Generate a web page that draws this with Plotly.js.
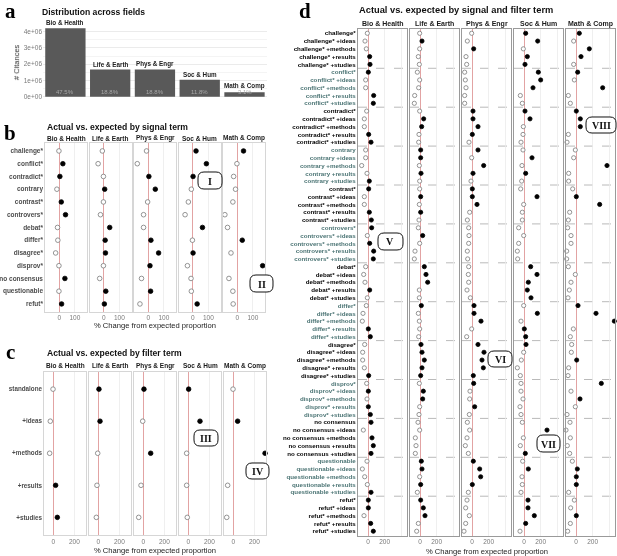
<!DOCTYPE html>
<html><head><meta charset="utf-8">
<script src="https://cdn.plot.ly/plotly-3.0.1.min.js"></script>
<style>html,body{margin:0;padding:0;background:#fff}#chart{width:617px;height:556px}
.main-svg text{filter:drop-shadow(0 0 0 rgba(0,0,0,0))}</style>
</head><body><div id="chart"></div><script>
// ---------- DATA ----------
const fields = ["Bio & Health","Life & Earth","Phys & Engr","Soc & Hum","Math & Comp"];
const citances = [4.21e6, 1.67e6, 1.67e6, 1.05e6, 0.27e6];
const shares = ["47.5%","18.8%","18.8%","11.8%","3.1%"];
const citTickVals = [0, 1e6, 2e6, 3e6, 4e6];
const citTickText = ["0e+00","1e+06","2e+06","3e+06","4e+06"];

const signalTerms = ["challenge*","conflict*","contradict*","contrary","contrast*","controvers*","debat*","differ*","disagree*","disprov*","no consensus","questionable","refut*"];
// panel b: % change by signal term
const sigBio  = [-2, 23, 4, -15, 13, 40, -11, -9, -23, -2, 36, -2, 15];
const sigLife = [-9, -36, -2, 6, -2, -21, 38, 9, 11, -2, -26, 13, 4];
const sigPhys = [-11, -70, 4, 45, -4, -30, -30, 17, 66, 11, -43, 15, -53];
const sigSoc  = [21, 87, 2, -9, -28, -49, 62, -2, 2, -34, -11, -9, 28];
const sigMath = [40, -2, -23, -11, -28, -79, -62, 32, -40, 162, -53, -28, -26];

const filterTerms = ["standalone","+ideas","+methods","+results","+studies"];
// panel c: % change by filter term
const filBio  = [-3, -29, -35, 22, 38];
const filLife = [6, 16, -6, -13, -19];
const filPhys = [6, -6, 70, -22, -44];
const filSoc  = [3, 111, -16, -16, -10];
const filMath = [-3, 41, 302, -54, -63];

// panel d: % change by signal x filter (13 groups x 5 filters)
const sfBio = [
 -8,-36,-20,20,24,   4,-28,-28,68,64,   -16,-44,-44,8,36,   -28,-28,-76,-12,16,
 8,-44,-44,16,40,    44,-8,20,68,64,    -28,-52,-36,20,-8,  -20,-60,-68,4,28,
 -40,-64,-64,-44,8,  -16,4,-12,4,28,    36,-56,48,64,36,    -12,-68,-40,-8,36,
 4,4,-48,32,64];
const sfLife = [
 -4,24,-4,-20,-8,    -32,-4,-16,-64,-68, -4,44,20,-12,-16,  8,8,-8,12,-4,
 -4,8,-8,8,-12,      -20,32,-4,-60,-68,  52,72,92,-8,-8,    16,-20,-8,-4,-16,
 12,24,52,24,8,      -8,40,32,-4,-12,    -24,-4,-56,-48,-56, 16,24,-4,8,-32,
 8,40,60,-20,-40];
const sfPhys = [
 -4,-56,20,-72,-64,  -88,-80,-72,-88,-88, 12,12,72,4,-36,   72,-4,140,12,-12,
 4,4,60,-28,-56,     -40,-36,-40,-56,-52, -40,-44,-40,-60,-20, 24,24,108,-4,-64,
 72,144,120,136,16,  20,-24,-28,32,-32,  -56,-28,-60,-80,-44, 16,92,104,4,-44,
 -60,-76,-32,-76,-96];
const sfSoc = [
 20,164,-8,40,12,    172,200,108,-44,-20, 12,72,-8,-12,-36, -12,96,-24,20,-28,
 -40,156,-4,-20,-20, -64,-4,-64,-80,-76, 80,156,52,40,84,   -4,160,-36,4,20,
 24,-4,-32,-80,-44,  -36,-36,-12,-48,-36, -20,276,-8,-44,16, -16,52,-24,-20,-36,
 48,48,124,20,-48];
const sfMath = [
 40,-28,160,60,-28,  20,-20,320,-92,-68, 4,52,52,-92,-108,  -8,-28,372,-88,-88,
 -40,4,284,-76,-92,  -100,-60,-60,-112,-112, -92,-8,-60,-80,-96, 24,240,460,-32,-68,
 -52,-56,8,-88,-96,  304,-60,48,-8,-108, -72,-120,-68,-104,-76, -44,16,4,4,-88,
 -20,-64,4,-68,-100];
const filterSuffix = [""," +ideas"," +methods"," +results"," +studies"];
const romanLabels = ["I","II","III","IV","V","VI","VII","VIII"];

// ---------- BUILD ----------
const W = 617, H = 556;
const px = x => x / W;
const py = y => 1 - y / H;
const FONT = "Liberation Sans, Arial, Helvetica, sans-serif";
const SERIF = "Liberation Serif, DejaVu Serif, Times New Roman, serif";
const data = [];
const layout = {
  width: W, height: H, margin: {l:0, r:0, t:0, b:0},
  paper_bgcolor: '#fff', plot_bgcolor: '#fff', showlegend: false,
  font: {family: FONT, color: '#1a1a1a'},
  bargap: 0.1, annotations: [], shapes: []
};
let axN = 1;
function addAxes(x0, x1, y0, y1, xo, yo) {
  const n = axN++;
  const s = n === 1 ? '' : String(n);
  layout['xaxis' + s] = Object.assign({domain: [px(x0), px(x1)], anchor: 'y' + s, fixedrange: true}, xo);
  layout['yaxis' + s] = Object.assign({domain: [py(y1), py(y0)], anchor: 'x' + s, fixedrange: true}, yo);
  return {x: 'x' + s, y: 'y' + s};
}
function ann(x, y, text, o) {
  layout.annotations.push(Object.assign({xref: 'paper', yref: 'paper', x: px(x), y: py(y), text: text,
    showarrow: false, xanchor: 'center', yanchor: 'middle'}, o));
}
function markerStyle(vals, size) {
  return {size: size, color: vals.map(v => v > 0 ? '#000' : '#fff'),
          line: {width: 0.8, color: vals.map(v => v > 0 ? '#000' : '#7a7a7a')}};
}

// ----- panel a -----
const axA = addAxes(43, 267, 24.9, 100.1,
  {type: 'category', showticklabels: false, showgrid: false, zeroline: false, ticks: ''},
  {range: [-0.21e6, 4.42e6], tickvals: citTickVals, ticktext: citTickText,
   tickfont: {size: 6.5, color: '#7a7a7a'}, gridcolor: '#ebebeb', zeroline: false, ticks: '',
   minor: {tickvals: [0.5e6, 1.5e6, 2.5e6, 3.5e6], showgrid: true, gridcolor: '#f4f4f4'},
   title: {text: '# Citances', font: {size: 7.5, color: '#333'}, standoff: 3}});
data.push({type: 'bar', x: fields, y: citances, xaxis: axA.x, yaxis: axA.y,
  marker: {color: '#595959'}, hoverinfo: 'skip'});
fields.forEach((f, i) => {
  layout.annotations.push({xref: axA.x, yref: axA.y, x: f, y: citances[i], text: '<b>' + f + '</b>',
    showarrow: false, yanchor: 'bottom', yshift: 0, font: {size: 6.3, color: '#222'}});
  layout.annotations.push({xref: axA.x, yref: axA.y, x: f, y: 0, text: shares[i],
    showarrow: false, yanchor: 'bottom', yshift: 0, font: {size: 6, color: '#a8a8a8'}});
});

// ----- generic facet panel -----
function facetPanel(opts) {
  const ids = [];
  opts.series.forEach((vals, i) => {
    const x0 = opts.xStart + opts.step * i, x1 = x0 + opts.width;
    const ax = addAxes(x0, x1, opts.y0, opts.y1,
      {range: opts.xRange, tickvals: opts.xTicks, ticktext: opts.xTickText,
       tickfont: {size: 6.5, color: '#7a7a7a'}, showgrid: true, gridcolor: '#ebebeb', gridwidth: 0.8,
       zeroline: true, zerolinecolor: '#e2a3a3', zerolinewidth: 1,
       showline: true, mirror: true, linecolor: opts.border, linewidth: 1, ticks: ''},
      {range: [opts.labels.length - 1 + opts.pad, -opts.pad],
       tickvals: opts.labels.map((_, k) => k), ticktext: opts.labels,
       showticklabels: i === 0, tickfont: {size: opts.labelSize, color: opts.labelColor, weight: 'bold'},
       showgrid: false, zeroline: false, showline: true, mirror: true, linecolor: opts.border, linewidth: 1, ticks: ''});
    data.push({type: 'scatter', mode: 'markers', x: vals, y: vals.map((_, k) => k),
      xaxis: ax.x, yaxis: ax.y, marker: markerStyle(vals, opts.msize), hoverinfo: 'skip', cliponaxis: false});
    ann(x0 + opts.width / 2, opts.stripY, '<b>' + fields[i] + '</b>', {font: {size: opts.stripSize, color: '#1a1a1a'}});
    ids.push(ax);
  });
  return ids;
}

// ----- panel b -----
facetPanel({series: [sigBio, sigLife, sigPhys, sigSoc, sigMath], labels: signalTerms,
  xStart: 45.3, step: 44.5, width: 42, y0: 143.3, y1: 311.6, pad: 0.6,
  xRange: [-89, 179], xTicks: [0, 100], xTickText: ['0', '100'],
  border: '#d6d6d6', labelSize: 6.5, labelColor: '#4d4d4d', msize: 4.6,
  stripY: 138.3, stripSize: 6.5});

// ----- panel c -----
facetPanel({series: [filBio, filLife, filPhys, filSoc, filMath], labels: filterTerms,
  xStart: 44.3, step: 45, width: 41.7, y0: 371.5, y1: 535, pad: 0.55,
  xRange: [-86, 311], xTicks: [0, 200], xTickText: ['0', '200'],
  border: '#d6d6d6', labelSize: 6.3, labelColor: '#4d4d4d', msize: 4.6,
  stripY: 365.7, stripSize: 6.5});

// ----- panel d -----
const dLabels = [];
signalTerms.forEach((t, g) => {
  filterSuffix.forEach(s => {
    const lab = t + s;
    dLabels.push(g % 2 === 1 ? '<span style="color:#4b7474">' + lab + '</span>' : lab);
  });
});
const dAxes = facetPanel({series: [sfBio, sfLife, sfPhys, sfSoc, sfMath], labels: dLabels,
  xStart: 358, step: 52, width: 49, y0: 29, y1: 535.5, pad: 0.55,
  xRange: [-120, 468], xTicks: [0, 200, 400], xTickText: ['0', '200', ''],
  border: '#9a9a9a', labelSize: 6.2, labelColor: '#000', msize: 4.2,
  stripY: 24, stripSize: 7});
dAxes.forEach(ax => {
  for (let g = 1; g < signalTerms.length; g++) {
    layout.shapes.push({type: 'line', xref: ax.x + ' domain', yref: ax.y, x0: 0, x1: 1,
      y0: g * 5 - 0.5, y1: g * 5 - 0.5, line: {color: '#a8a8a8', width: 0.8, dash: 'dash'}, layer: 'below'});
  }
});

// ----- titles & letters -----
const titleFont = {size: 8.6, color: '#111'};
ann(40, 12, '<b>Distribution across fields</b>', {xanchor: 'left', font: titleFont});
ann(45, 126.5, '<b>Actual vs. expected by signal term</b>', {xanchor: 'left', font: titleFont});
ann(45, 353.3, '<b>Actual vs. expected by filter term</b>', {xanchor: 'left', font: titleFont});
ann(357, 10, '<b>Actual vs. expected by signal and filter term</b>', {xanchor: 'left', font: {size: 9.3, color: '#111'}});
const axTitleFont = {size: 7.6, color: '#222'};
ann(155, 325.5, '% Change from expected proportion', {font: axTitleFont});
ann(155, 550, '% Change from expected proportion', {font: axTitleFont});
ann(487, 551.5, '% Change from expected proportion', {font: axTitleFont});
const letterFont = {family: SERIF, size: 21, color: '#000'};
ann(10.5, 11, '<b>a</b>', {font: letterFont});
ann(10.5, 133, '<b>b</b>', {font: letterFont});
ann(10.5, 352, '<b>c</b>', {font: letterFont});
ann(304.5, 11, '<b>d</b>', {font: letterFont});

// ----- roman numeral callouts -----
const boxes = [[198,172,222,189],[250,275,273,292],[194,430,218,446],[246,463,269,479],
               [378,233,403,250],[488,351,512,367],[537,435,560,452],[586,117,616,133]];
boxes.forEach((b, i) => {
  const [x0, y0, x1, y1] = b, r = 6;
  const P = (x, y) => px(x).toFixed(5) + ',' + py(y).toFixed(5);
  const path = 'M' + P(x0 + r, y0) + ' L' + P(x1 - r, y0) + ' Q' + P(x1, y0) + ' ' + P(x1, y0 + r) +
    ' L' + P(x1, y1 - r) + ' Q' + P(x1, y1) + ' ' + P(x1 - r, y1) + ' L' + P(x0 + r, y1) +
    ' Q' + P(x0, y1) + ' ' + P(x0, y1 - r) + ' L' + P(x0, y0 + r) + ' Q' + P(x0, y0) + ' ' + P(x0 + r, y0) + ' Z';
  layout.shapes.push({type: 'path', xref: 'paper', yref: 'paper', path: path,
    line: {color: '#111', width: 1}, fillcolor: '#fff', layer: 'above'});
  ann((x0 + x1) / 2, (y0 + y1) / 2 + 0.5, '<b>' + romanLabels[i] + '</b>', {font: {family: SERIF, size: 10, color: '#111'}});
});

Plotly.newPlot('chart', data, layout, {staticPlot: true, displayModeBar: false});
</script></body></html>
